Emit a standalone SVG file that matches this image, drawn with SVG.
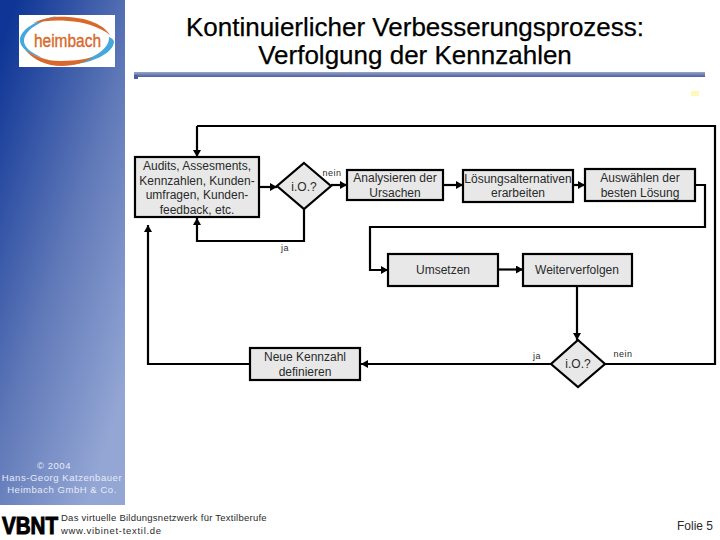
<svg xmlns="http://www.w3.org/2000/svg" width="720" height="540" viewBox="0 0 720 540">
<style>
text{font-family:"Liberation Sans",Arial,sans-serif;fill:#2a2a2a}
.n{fill:#e8e8e8;stroke:#000;stroke-width:2.2}
.c{fill:none;stroke:#000;stroke-width:2.2;marker-end:url(#a)}
.p{fill:none;stroke:#000;stroke-width:2.2}
.t{font-size:12px;text-anchor:middle}
.s{font-size:9px;text-anchor:middle;letter-spacing:.5px}
.b{font-size:26px;text-anchor:middle;fill:#000;font-size:26px;stroke:#000;stroke-width:.25}
.w{font-size:9.500px;text-anchor:middle;fill:#e6ebf7;letter-spacing:.55px}
</style>
<defs>
<linearGradient id="g" gradientUnits="userSpaceOnUse" x1="0" y1="50" x2="214" y2="121"><stop offset="0" stop-color="#0f3696"/><stop offset=".55" stop-color="#6079b8"/><stop offset="1" stop-color="#93a6d4"/></linearGradient>
<linearGradient id="l" x1="0" y1="0" x2="0" y2="1"><stop offset="0" stop-color="#9aa5cc"/><stop offset="1" stop-color="#4d5f9c"/></linearGradient>
<marker id="a" markerUnits="userSpaceOnUse" markerWidth="7" markerHeight="8" refX="7" refY="4" orient="auto"><path d="M0 0L7 4L0 8Z" fill="#000"/></marker>
</defs>
<rect width="720" height="540" fill="#fff"/>
<rect width="125" height="505" fill="url(#g)"/>
<g id="logo">
<rect x="19" y="15" width="96" height="52" fill="#fff"/>
<path d="M57 16C36 20 19 30 20 41C21 49 30 55 43 58C31 53 24 47 24 41C24 31 38 22 57 16Z" fill="#45a7dc"/>
<path d="M33 23C46 17 58 16 68 17C88 18 104 25 110 35C98 26 84 22 68 21C54 20 44 21 33 23Z" fill="#d9692b"/>
<path d="M114 42C113 54 90 64 67 65C84 62 110 52 109 37C112 38 114 40 114 42Z" fill="#45a7dc"/>
<path d="M25 50C34 60 46 66 62 66C74 66 86 62 93 57C82 60 70 61 60 61C46 61 34 56 25 50Z" fill="#d9692b"/>
<text x="67.500" y="47" font-size="19" text-anchor="middle" textLength="67" lengthAdjust="spacingAndGlyphs" style="fill:#d9692b;stroke:#d9692b;stroke-width:.4">heimbach</text>
</g>
<g id="title">
<text class="b" x="415" y="36">Kontinuierlicher Verbesserungsprozess:</text>
<text class="b" x="415" y="64">Verfolgung der Kennzahlen</text>
<rect x="134" y="72" width="571" height="5" fill="url(#l)"/>
<rect x="134" y="75" width="4" height="4" fill="#4d5f9c"/>
<rect x="691" y="91" width="8" height="5" fill="#fff9a8" opacity=".8"/>
</g>
<g id="connectors">
<path class="p" d="M605 364H715V126H197"/>
<path class="c" d="M197 126V157"/>
<path class="c" d="M259 187H277"/>
<path class="c" d="M331 185H347"/>
<path class="c" d="M443 185H463"/>
<path class="c" d="M573 185H585"/>
<path class="c" d="M304 209V241H197V218"/>
<path class="c" d="M695 185H705V227H370V270H388"/>
<path class="c" d="M498 269.500H523"/>
<path class="c" d="M577 286V340"/>
<path class="c" d="M551 364H361"/>
<path class="c" d="M250 364H148V225"/>
</g>
<g id="n1"><rect class="n" x="135" y="157" width="124" height="60"/>
<text class="t" x="197" y="170">Audits, Assesments,</text><text class="t" x="197" y="185">Kennzahlen, Kunden-</text><text class="t" x="197" y="199">umfragen, Kunden-</text><text class="t" x="197" y="214">feedback, etc.</text></g>
<g id="d1"><path class="n" d="M304 163L331 186L304 209L277 186Z"/><text class="t" x="304" y="191">i.O.?</text></g>
<g id="n2"><rect class="n" x="347" y="170" width="96" height="30"/>
<text class="t" x="395" y="182">Analysieren der</text><text class="t" x="395" y="197">Ursachen</text></g>
<g id="n3"><rect class="n" x="463" y="170" width="110" height="32"/>
<text class="t" x="518" y="183">Lösungsalternativen</text><text class="t" x="518" y="197">erarbeiten</text></g>
<g id="n4"><rect class="n" x="585" y="169" width="110" height="32"/>
<text class="t" x="640" y="182">Auswählen der</text><text class="t" x="640" y="197">besten Lösung</text></g>
<g id="n5"><rect class="n" x="388" y="254" width="110" height="32"/><text class="t" x="443" y="274">Umsetzen</text></g>
<g id="n6"><rect class="n" x="523" y="254" width="109" height="32"/><text class="t" x="577" y="274">Weiterverfolgen</text></g>
<g id="d2"><path class="n" d="M578 340L605 364L578 387L551 364Z"/><text class="t" x="578" y="368">i.O.?</text></g>
<g id="n7"><rect class="n" x="250" y="348" width="110" height="32"/>
<text class="t" x="305" y="361">Neue Kennzahl</text><text class="t" x="305" y="376">definieren</text></g>
<g id="labels">
<text class="s" x="332" y="176">nein</text>
<text class="s" x="285" y="251">ja</text>
<text class="s" x="537" y="359">ja</text>
<text class="s" x="623" y="357">nein</text>
</g>
<g id="credit">
<text class="w" x="54" y="469">© 2004</text>
<text class="w" x="62" y="481">Hans-Georg Katzenbauer</text>
<text class="w" x="62" y="493">Heimbach GmbH &amp; Co.</text>
</g>
<g id="footer">
<text x="2" y="534" font-size="23" font-weight="bold" textLength="56" lengthAdjust="spacingAndGlyphs" style="fill:#000;stroke:#000;stroke-width:1">VBNT</text>
<text x="61" y="521" font-size="9.500" letter-spacing=".25">Das virtuelle Bildungsnetzwerk für Textilberufe</text>
<text x="61" y="534" font-size="9.500" letter-spacing=".7">www.vibinet-textil.de</text>
<text x="677" y="530" font-size="12">Folie 5</text>
</g>
</svg>
